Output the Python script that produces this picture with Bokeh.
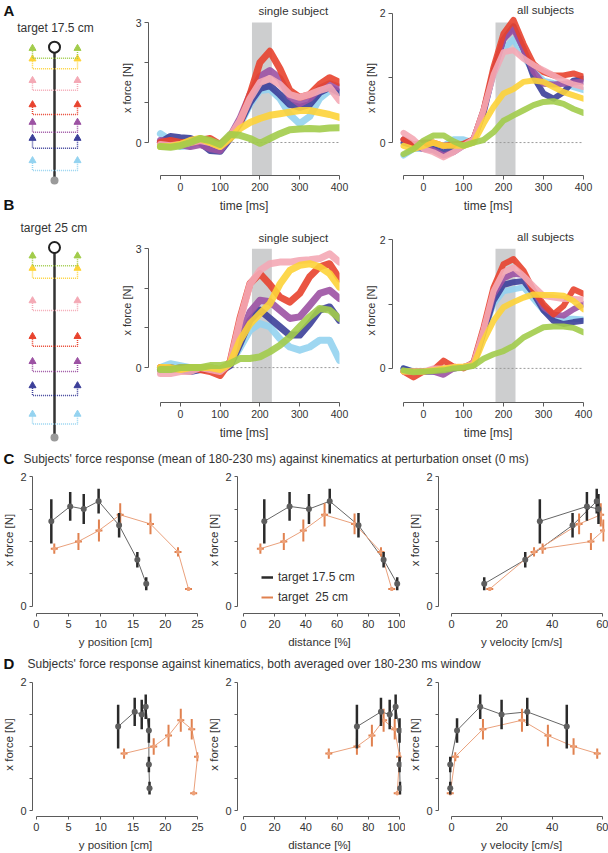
from bokeh.plotting import figure
from bokeh.layouts import row, column
from bokeh.models import Range1d, FixedTicker, Legend, LegendItem
from bokeh.core.properties import value
from bokeh.embed import file_html
from bokeh.resources import INLINE

FONT = "Liberation Sans"

# ---------------- data ----------------
T_MS = [-50, -25, 0, 25, 50, 75, 100, 125, 150, 175, 200, 225, 250, 275, 300, 325, 350, 375, 400]
WINDOW_MS = [180, 230]
TARGETS_CM = [17.5, 25]
COND_COLORS = ["#94d3f0", "#3c3f99", "#9c52a3", "#e8432e", "#f4a9b5", "#fdd338", "#a2cc4b"]

# A: target 17.5 cm, single subject
A_SINGLE_LIGHTBLUE = [0.22, 0.05, -0.1, -0.08, 0.05, -0.05, -0.1, 0.15, 0.45, 0.95, 1.3, 1.33, 1.1, 0.7, 0.47, 0.65, 1.1, 1.3, 1.25]
A_SINGLE_NAVY = [0.0, 0.15, 0.12, 0.1, 0.0, -0.2, -0.22, 0.1, 0.5, 1.0, 1.35, 1.42, 1.2, 0.95, 0.88, 0.95, 1.25, 1.38, 1.25]
A_SINGLE_PURPLE = [0.05, 0.0, -0.05, -0.1, -0.05, -0.15, -0.2, 0.15, 0.6, 1.2, 1.65, 1.8, 1.6, 1.15, 0.97, 1.1, 1.35, 1.47, 1.38]
A_SINGLE_RED = [0.0, 0.05, 0.0, 0.0, 0.05, 0.1, -0.05, 0.15, 0.5, 1.2, 2.0, 2.28, 1.85, 1.3, 1.13, 1.2, 1.45, 1.62, 1.5]
A_SINGLE_PINK = [-0.05, -0.08, -0.05, 0.0, 0.05, 0.0, -0.1, 0.15, 0.55, 1.1, 1.5, 1.6, 1.45, 1.2, 1.13, 1.2, 1.3, 1.38, 1.05]
A_SINGLE_YELLOW = [-0.1, -0.1, -0.05, 0.05, 0.1, 0.0, -0.1, 0.1, 0.35, 0.5, 0.6, 0.68, 0.72, 0.76, 0.8, 0.8, 0.75, 0.7, 0.63]
A_SINGLE_GREEN = [-0.1, -0.12, -0.08, 0.0, 0.1, 0.05, -0.05, 0.2, 0.18, 0.1, -0.02, 0.1, 0.22, 0.32, 0.34, 0.35, 0.34, 0.36, 0.37]

# A: target 17.5 cm, all subjects
A_ALL_LIGHTBLUE = [-0.2, -0.1, -0.1, -0.05, -0.05, 0.05, 0.05, 0.0, 0.5, 1.05, 1.45, 1.6, 1.33, 1.1, 0.96, 0.92, 0.91, 0.86, 0.81]
A_ALL_NAVY = [0.0, -0.05, -0.05, -0.1, -0.15, -0.1, -0.05, 0.05, 0.45, 1.1, 1.6, 1.8, 1.45, 1.02, 0.76, 0.68, 0.78, 0.96, 0.99]
A_ALL_PURPLE = [0.05, -0.05, -0.1, -0.12, -0.2, -0.15, -0.05, 0.05, 0.5, 1.1, 1.6, 1.76, 1.45, 1.1, 0.91, 0.9, 0.91, 0.93, 0.94]
A_ALL_RED = [0.05, -0.03, 0.0, 0.0, -0.05, -0.03, -0.02, 0.05, 0.5, 1.17, 1.69, 1.9, 1.53, 1.22, 1.09, 1.04, 1.04, 1.07, 1.02]
A_ALL_PINK = [0.15, 0.05, -0.1, -0.15, -0.23, -0.15, -0.05, 0.05, 0.5, 1.05, 1.4, 1.43, 1.3, 1.2, 1.12, 1.04, 0.96, 0.9, 0.86]
A_ALL_YELLOW = [-0.05, -0.1, -0.05, 0.0, -0.05, -0.05, -0.05, 0.0, 0.29, 0.55, 0.76, 0.83, 0.94, 0.96, 0.94, 0.86, 0.78, 0.73, 0.68]
A_ALL_GREEN = [-0.18, -0.1, 0.03, 0.11, 0.11, 0.02, -0.05, 0.0, 0.04, 0.16, 0.34, 0.42, 0.5, 0.58, 0.63, 0.64, 0.6, 0.52, 0.46]

# B: target 25 cm, single subject
B_SINGLE_LIGHTBLUE = [0.0, 0.1, 0.05, 0.0, -0.05, 0.0, -0.05, 0.1, 0.5, 0.94, 1.11, 1.03, 0.73, 0.52, 0.44, 0.52, 0.69, 0.69, 0.18]
B_SINGLE_NAVY = [-0.05, 0.0, -0.05, -0.1, -0.05, -0.05, -0.1, 0.05, 0.6, 1.19, 1.45, 1.24, 1.03, 0.82, 0.82, 1.11, 1.45, 1.53, 1.19]
B_SINGLE_PURPLE = [-0.05, -0.05, 0.0, 0.0, -0.05, 0.0, -0.05, 0.1, 0.8, 1.4, 1.7, 1.66, 1.45, 1.24, 1.28, 1.57, 1.87, 1.95, 1.74]
B_SINGLE_RED = [0.0, -0.05, -0.05, 0.0, -0.05, -0.1, -0.2, 0.15, 1.25, 2.12, 2.37, 2.1, 1.78, 1.65, 1.87, 2.29, 2.54, 2.62, 2.24]
B_SINGLE_PINK = [-0.15, -0.15, -0.1, -0.1, 0.0, -0.05, -0.1, 0.1, 1.19, 2.1, 2.45, 2.62, 2.66, 2.66, 2.7, 2.72, 2.75, 2.87, 2.66]
B_SINGLE_YELLOW = [0.0, 0.0, -0.05, 0.0, 0.0, 0.0, -0.05, 0.1, 0.69, 1.1, 1.36, 1.61, 2.1, 2.45, 2.58, 2.62, 2.54, 2.37, 2.03]
B_SINGLE_GREEN = [-0.05, -0.05, 0.0, 0.0, 0.0, 0.05, 0.05, 0.1, 0.23, 0.23, 0.27, 0.4, 0.56, 0.77, 1.03, 1.28, 1.49, 1.45, 1.24]

# B: target 25 cm, all subjects
B_ALL_LIGHTBLUE = [0.0, -0.05, -0.05, -0.05, 0.0, 0.0, 0.02, 0.05, 0.55, 1.0, 1.2, 1.23, 1.26, 1.08, 0.9, 0.79, 0.77, 0.77, 0.76]
B_ALL_NAVY = [0.0, -0.05, -0.05, -0.05, -0.03, 0.0, 0.02, 0.05, 0.55, 1.05, 1.3, 1.34, 1.36, 1.16, 0.9, 0.74, 0.69, 0.72, 0.74]
B_ALL_PURPLE = [-0.05, -0.05, -0.05, -0.05, -0.1, 0.0, 0.02, 0.08, 0.6, 1.15, 1.4, 1.47, 1.45, 1.21, 0.95, 0.84, 0.82, 0.92, 1.0]
B_ALL_RED = [-0.05, -0.14, -0.05, -0.02, 0.12, 0.03, 0.0, 0.1, 0.64, 1.26, 1.62, 1.7, 1.52, 1.21, 1.0, 0.84, 0.97, 1.23, 1.16]
B_ALL_PINK = [-0.05, -0.05, -0.05, 0.0, 0.0, 0.02, 0.02, 0.08, 0.6, 1.2, 1.5, 1.57, 1.44, 1.28, 1.13, 1.1, 1.08, 1.08, 1.07]
B_ALL_YELLOW = [-0.05, -0.05, -0.05, -0.03, 0.0, 0.02, 0.03, 0.05, 0.43, 0.74, 0.95, 1.03, 1.1, 1.15, 1.14, 1.14, 1.13, 1.05, 0.92]
B_ALL_GREEN = [-0.03, -0.06, -0.05, -0.04, -0.03, 0.0, 0.01, 0.04, 0.15, 0.22, 0.27, 0.35, 0.48, 0.56, 0.64, 0.65, 0.65, 0.63, 0.56]

# C / D: force (mean 180-230 ms) per perturbation location
BLACK_FORCE = [1.31, 1.54, 1.50, 1.62, 1.25, 0.72, 0.35]
BLACK_ERR = [0.34, 0.22, 0.23, 0.19, 0.19, 0.12, 0.10]
ORANGE_FORCE = [0.89, 1.00, 1.17, 1.41, 1.27, 0.84, 0.27]
ORANGE_ERR = [0.08, 0.13, 0.17, 0.18, 0.16, 0.07, 0.03]

# C: kinematics at perturbation onset
C_BLACK_YPOS = [2.31, 5.24, 7.34, 9.65, 12.83, 15.66, 17.04]
C_BLACK_DIST = [13.4, 29.6, 42.0, 55.3, 73.7, 89.8, 98.5]
C_BLACK_VEL = [35.1, 53.8, 58.4, 57.7, 48.1, 29.3, 13.0]
C_ORANGE_YPOS = [2.77, 6.52, 9.70, 13.0, 17.7, 21.97, 23.6]
C_ORANGE_DIST = [10.9, 25.9, 38.4, 52.0, 71.2, 88.1, 95.0]
C_ORANGE_VEL = [36.2, 55.4, 60.4, 59.3, 50.7, 32.8, 15.2]

# D: kinematics averaged over 180-230 ms
D_BLACK_YPOS = [12.68, 15.25, 16.34, 16.96, 17.45, 17.45, 17.55]
D_BLACK_DIST = [72.7, 88.1, 93.7, 97.5, 100.0, 100.0, 100.4]
D_BLACK_VEL = [45.8, 30.1, 19.9, 11.4, 2.2, -0.5, -0.5]
D_ORANGE_YPOS = [13.6, 18.2, 20.5, 22.4, 24.1, 25.0, 24.4]
D_ORANGE_DIST = [54.7, 72.7, 82.3, 89.8, 96.9, 100.0, 98.5]
D_ORANGE_VEL = [57.9, 48.5, 38.3, 28.0, 12.5, 1.5, -0.5]

BLACK = "#2a2a2a"
ORANGE = "#e0814f"
AXIS_COLOR = "#5a5a5a"
TEXT_COLOR = "#333333"


def base_fig(w, h, bl, br, bt, bb, xr, yr):
    p = figure(width=w, height=h, x_range=Range1d(*xr), y_range=Range1d(*yr),
               output_backend="svg", toolbar_location=None,
               min_border_left=bl, min_border_right=br,
               min_border_top=bt, min_border_bottom=bb)
    p.outline_line_color = None
    p.xgrid.visible = False
    p.ygrid.visible = False
    p.background_fill_color = "white"
    p.border_fill_color = "white"
    return p


def style_axes(p, xb, xt, xhide, yb, yt, yhide, xlabel, ylabel,
               tick_fs, xlabel_fs, ylabel_fs, tick_out, x_label_standoff, y_label_standoff):
    for ax, lfs in ((p.xaxis[0], xlabel_fs), (p.yaxis[0], ylabel_fs)):
        ax.axis_line_color = AXIS_COLOR
        ax.major_tick_line_color = AXIS_COLOR
        ax.minor_tick_line_color = None
        ax.major_tick_out = tick_out
        ax.major_tick_in = 0
        ax.major_label_text_font = FONT
        ax.major_label_text_font_size = tick_fs
        ax.major_label_text_color = TEXT_COLOR
        ax.axis_label_text_font = FONT
        ax.axis_label_text_font_size = lfs
        ax.axis_label_text_font_style = "normal"
        ax.axis_label_text_color = TEXT_COLOR
    p.xaxis.bounds = xb
    p.xaxis.ticker = FixedTicker(ticks=xt, minor_ticks=[])
    p.xaxis.major_label_overrides = {k: "" for k in xhide}
    p.xaxis.major_label_standoff = 3
    p.xaxis.axis_label = xlabel
    p.xaxis.axis_label_standoff = x_label_standoff
    p.yaxis.bounds = yb
    p.yaxis.ticker = FixedTicker(ticks=yt, minor_ticks=[])
    p.yaxis.major_label_overrides = {k: "" for k in yhide}
    p.yaxis.major_label_standoff = 3
    p.yaxis.axis_label = ylabel
    p.yaxis.axis_label_standoff = y_label_standoff


def time_panel(w, h, bl, br, bb, xr, yr, ymax, band_top, title, title_xy, series, lw):
    p = base_fig(w, h, bl, br, 0, bb, xr, yr)
    p.quad(left=[WINDOW_MS[0]], right=[WINDOW_MS[1]], bottom=[yr[0]], top=[band_top],
           fill_color="#cdcecf", line_color=None)
    p.line([T_MS[0], T_MS[-1]], [0, 0], line_color="#9a9a9a", line_dash="2 2", line_width=1)
    for s, c in zip(series, COND_COLORS):
        p.line(T_MS, s, line_color=c, line_width=lw, line_alpha=0.9,
               line_join="round", line_cap="round")
    p.text(x=[title_xy[0]], y=[title_xy[1]], text=[title], text_align="center",
           text_baseline="middle", text_font=value(FONT), text_font_size="11.5px",
           text_color=TEXT_COLOR)
    yt = list(range(0, ymax + 1))
    style_axes(p, (T_MS[0], T_MS[-1]), [-50, 0, 100, 200, 300, 400], [-50],
               (0, ymax), yt, yt[1:-1], "time [ms]", "x force [N]",
               "10.5px", "12px", "11px", 4, 5, 0)
    return p


def diagram(h, yr, target, positions, letter, letter_y, label, label_y):
    p = base_fig(105, h, 0, 0, 0, 0, (-8, 97), yr)
    p.axis.visible = False
    xl, xc, xr_ = 24, 46, 69
    p.segment(x0=[xc], y0=[0], x1=[xc], y1=[target], line_color="#333333", line_width=2.5)
    for pos, c in zip(positions, COND_COLORS):
        p.multi_line(xs=[[xl, xl, xr_, xr_]], ys=[[pos, pos - 1.0, pos - 1.0, pos]],
                     line_color=c, line_width=1.5, line_dash="1 1")
        p.scatter(x=[xl, xr_], y=[pos + 0.3, pos + 0.3], marker="triangle", size=7,
                  fill_color=c, line_color=c)
    p.scatter(x=[xc], y=[0], marker="circle", size=8, fill_color="#9a9a9a", line_color=None)
    p.scatter(x=[xc], y=[target], marker="circle", size=11, fill_color="white",
              line_color="#222222", line_width=2)
    p.text(x=[-5], y=[letter_y], text=[letter], text_font=value(FONT), text_font_size="15px",
           text_font_style="bold", text_baseline="middle", text_align="left", text_color="#111111")
    p.text(x=[47], y=[label_y], text=[label], text_font=value(FONT), text_font_size="12px",
           text_baseline="middle", text_align="center", text_color=TEXT_COLOR)
    return p


def kin_panel(w, h, bl, br, bb, xr, yr, xb, xt, xlabel, bx, ox, legend=False):
    p = base_fig(w, h, bl, br, 0, bb, xr, yr)
    p.line(bx, BLACK_FORCE, line_color="#666666", line_width=1)
    p.line(ox, ORANGE_FORCE, line_color="#eaa17c", line_width=1)
    r_o = p.segment(x0=ox, y0=[f - e for f, e in zip(ORANGE_FORCE, ORANGE_ERR)],
                    x1=ox, y1=[f + e for f, e in zip(ORANGE_FORCE, ORANGE_ERR)],
                    line_color=ORANGE, line_width=2)
    p.scatter(ox, ORANGE_FORCE, marker="dash", size=7, line_color=ORANGE, line_width=2)
    p.scatter(ox, ORANGE_FORCE, marker="circle", size=4, fill_color="#eea27a", line_color=None)
    r_b = p.segment(x0=bx, y0=[f - e for f, e in zip(BLACK_FORCE, BLACK_ERR)],
                    x1=bx, y1=[f + e for f, e in zip(BLACK_FORCE, BLACK_ERR)],
                    line_color=BLACK, line_width=2.5)
    p.scatter(bx, BLACK_FORCE, marker="circle", size=6, fill_color="#5e5e5e", line_color=None)
    style_axes(p, xb, xt, [], (0, 2), [0, 0.5, 1, 1.5, 2], [0.5, 1, 1.5],
               xlabel, "x force [N]", "11px", "11.5px", "11.5px", 3, 5, 2)
    if legend:
        leg = Legend(items=[LegendItem(label="target 17.5 cm", renderers=[r_b]),
                            LegendItem(label="target  25 cm", renderers=[r_o])],
                     location=(24, 8), orientation="vertical")
        leg.padding = 0
        leg.margin = 0
        leg.spacing = 4
        leg.glyph_width = 12
        leg.glyph_height = 16
        leg.label_height = 16
        leg.label_standoff = 5
        leg.label_text_font = FONT
        leg.label_text_font_size = "12px"
        leg.label_text_color = TEXT_COLOR
        leg.background_fill_alpha = 0
        leg.border_line_color = None
        p.add_layout(leg)
    return p


def title_fig(letter, text, y, letter_x, text_x):
    p = base_fig(608, 22, 0, 0, 0, 0, (0, 608), (0, 22))
    p.axis.visible = False
    p.text(x=[letter_x], y=[y], text=[letter], text_font=value(FONT), text_font_size="15px",
           text_font_style="bold", text_baseline="middle", text_color="#111111")
    p.text(x=[text_x], y=[y], text=[text], text_font=value(FONT), text_font_size="12px",
           text_baseline="middle", text_color=TEXT_COLOR)
    return p


# ---------------- panels A / B ----------------
diag_a = diagram(196, (-2.1, 23.62), TARGETS_CM[0], C_BLACK_YPOS, "A", 22.3, "target 17.5 cm", 19.95)
diag_b = diagram(248, (-0.92, 31.71), TARGETS_CM[1], C_ORANGE_YPOS, "B", 30.66, "target  25 cm", 27.63)

single_a = time_panel(245, 218, 43, 11, 43, (-80, 400), (-0.825, 3.55), 3, 3.0,
                      "single subject", (284, 3.3),
                      [A_SINGLE_LIGHTBLUE, A_SINGLE_NAVY, A_SINGLE_PURPLE, A_SINGLE_RED,
                       A_SINGLE_PINK, A_SINGLE_YELLOW, A_SINGLE_GREEN], 7)
all_a = time_panel(258, 218, 42, 25, 43, (-77.5, 400), (-0.51, 2.2), 2, 1.86,
                   "all subjects", (305, 2.05),
                   [A_ALL_LIGHTBLUE, A_ALL_NAVY, A_ALL_PURPLE, A_ALL_RED,
                    A_ALL_PINK, A_ALL_YELLOW, A_ALL_GREEN], 6)
single_b = time_panel(245, 226, 43, 11, 42, (-80, 400), (-0.88, 3.76), 3, 3.0,
                      "single subject", (284, 3.28),
                      [B_SINGLE_LIGHTBLUE, B_SINGLE_NAVY, B_SINGLE_PURPLE, B_SINGLE_RED,
                       B_SINGLE_PINK, B_SINGLE_YELLOW, B_SINGLE_GREEN], 7)
all_b = time_panel(258, 226, 42, 25, 42, (-77.5, 400), (-0.53, 2.33), 2, 1.86,
                   "all subjects", (305, 2.05),
                   [B_ALL_LIGHTBLUE, B_ALL_NAVY, B_ALL_PURPLE, B_ALL_RED,
                    B_ALL_PINK, B_ALL_YELLOW, B_ALL_GREEN], 6)

# ---------------- panels C / D ----------------
title_c = title_fig("C", "Subjects' force response (mean of 180-230 ms) against kinematics at perturbation onset (0 ms)", 8, 3, 23)
title_d = title_fig("D", "Subjects' force response against kinematics, both averaged over 180-230 ms window", 9, 3, 27)

YR_C = (-0.108, 2.154)
YR_D = (-0.092, 2.154)
XR1 = (-0.61, 25.15)
XR2 = (-3.75, 101.25)
XR3 = (-5.165, 60.79)
XT1 = [0, 5, 10, 15, 20, 25]
XT2 = [0, 20, 40, 60, 80, 100]
XT3 = [0, 20, 40, 60]

c1 = kin_panel(205, 184, 30, 7, 37, XR1, YR_C, (0, 25), XT1, "y position [cm]", C_BLACK_YPOS, C_ORANGE_YPOS)
c2 = kin_panel(200, 184, 28, 4, 37, XR2, YR_C, (0, 100), XT2, "distance [%]", C_BLACK_DIST, C_ORANGE_DIST, legend=True)
c3 = kin_panel(203, 184, 33, 4, 37, XR3, YR_C, (0, 60), XT3, "y velocity [cm/s]", C_BLACK_VEL, C_ORANGE_VEL)

d1 = kin_panel(205, 181, 30, 7, 35, XR1, YR_D, (0, 25), XT1, "y position [cm]", D_BLACK_YPOS, D_ORANGE_YPOS)
d2 = kin_panel(200, 181, 28, 4, 35, XR2, YR_D, (0, 100), XT2, "distance [%]", D_BLACK_DIST, D_ORANGE_DIST)
d3 = kin_panel(203, 181, 33, 4, 35, XR3, YR_D, (0, 60), XT3, "y velocity [cm/s]", D_BLACK_VEL, D_ORANGE_VEL)

layout = column(
    row(column(diag_a, diag_b), column(single_a, single_b), column(all_a, all_b)),
    title_c,
    row(c1, c2, c3),
    title_d,
    row(d1, d2, d3),
)

open("out.html", "w").write(file_html(layout, INLINE))
